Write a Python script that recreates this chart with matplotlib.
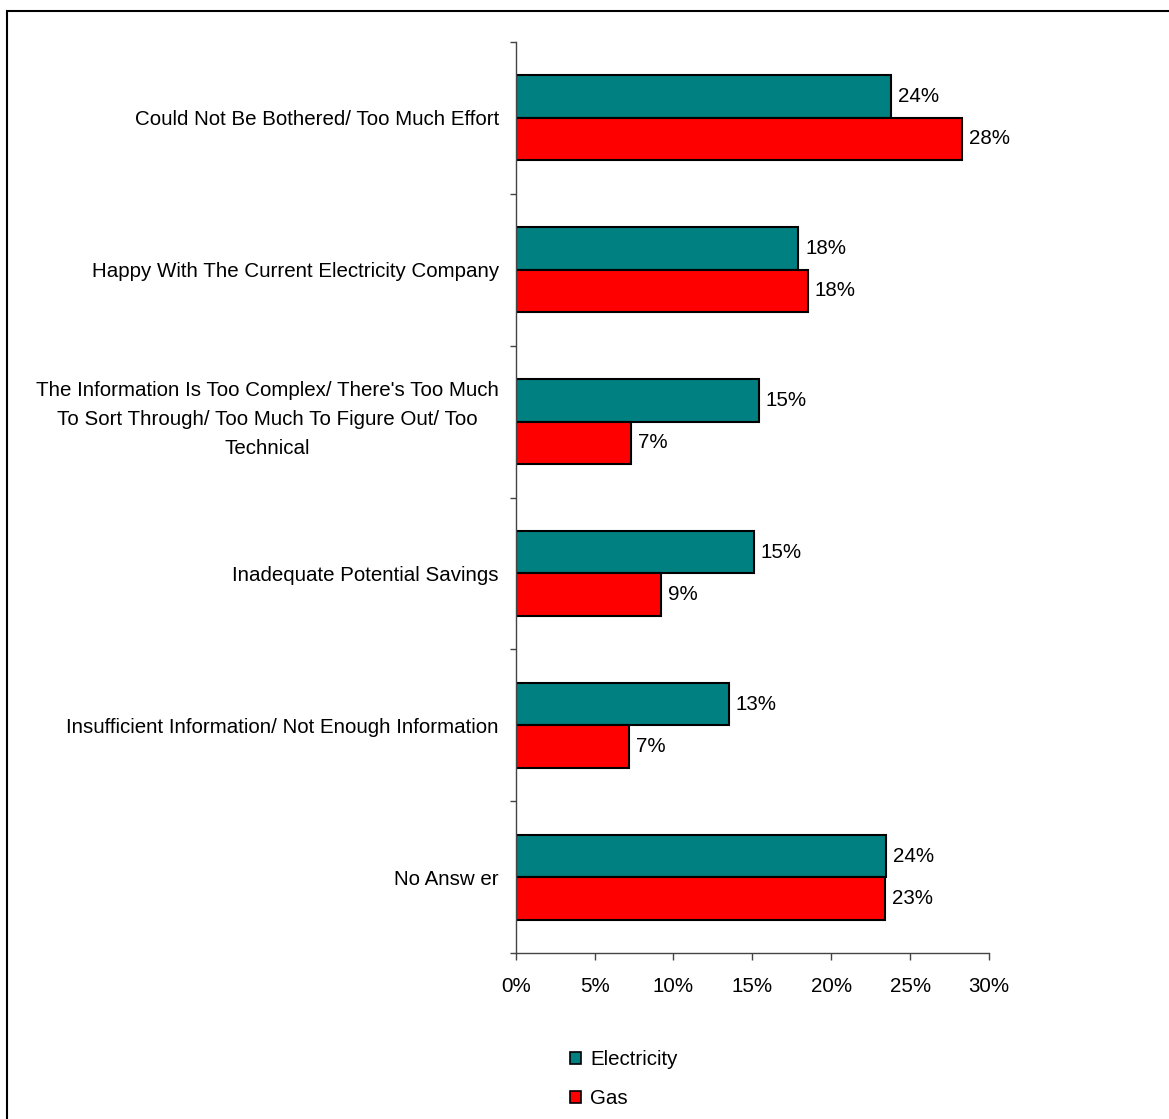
import numpy as np
import matplotlib.pyplot as plt
from matplotlib.patches import Patch, Rectangle
from matplotlib.transforms import ScaledTranslation

plt.rcParams["font.family"] = ["Liberation Sans", "DejaVu Sans"]

categories = [
    "Could Not Be Bothered/ Too Much Effort",
    "Happy With The Current Electricity Company",
    "The Information Is Too Complex/ There's Too Much\nTo Sort Through/ Too Much To Figure Out/ Too\nTechnical",
    "Inadequate Potential Savings",
    "Insufficient Information/ Not Enough Information",
    "No Answ er",
]
electricity = [23.8, 17.9, 15.4, 15.1, 13.5, 23.5]
gas = [28.3, 18.5, 7.3, 9.2, 7.2, 23.4]
elec_labels = ["24%", "18%", "15%", "15%", "13%", "24%"]
gas_labels = ["28%", "18%", "7%", "9%", "7%", "23%"]
xticks = [0, 5, 10, 15, 20, 25, 30]

ELEC_COLOR = "#008080"
GAS_COLOR = "#FF0000"
FS = 14.8
BAR_H = 0.28

fig = plt.figure(figsize=(11.69, 11.19), dpi=100)
ax = fig.add_axes([0.4411, 0.1481, 0.4049, 0.8146])

n = len(categories)
y = np.arange(n)
ax.barh(y - BAR_H / 2, electricity, height=BAR_H, color=ELEC_COLOR,
        edgecolor="black", linewidth=1.5)
ax.barh(y + BAR_H / 2, gas, height=BAR_H, color=GAS_COLOR,
        edgecolor="black", linewidth=1.5)

for i in range(n):
    ax.annotate(elec_labels[i], (electricity[i], y[i] - BAR_H / 2),
                xytext=(5, 0), textcoords="offset points",
                va="center", ha="left", fontsize=FS)
    ax.annotate(gas_labels[i], (gas[i], y[i] + BAR_H / 2),
                xytext=(5, 0), textcoords="offset points",
                va="center", ha="left", fontsize=FS)

ax.set_xlim(0, 30)
ax.set_ylim(n - 0.5, -0.5)
ax.set_xticks(xticks)
ax.set_xticklabels([f"{t}%" for t in xticks], fontsize=FS)

# category boundaries get the tick marks, labels sit in the middle
ax.set_yticks(np.arange(n + 1) - 0.5)
ax.set_yticklabels([])
ax.set_yticks(y, minor=True)
ax.set_yticklabels(categories, minor=True, fontsize=FS,
                   multialignment="center", linespacing=1.65)
ax.tick_params(axis="y", which="minor", length=0, pad=12)
ax.tick_params(axis="y", which="major", length=4, width=1, color="#444444")
ax.tick_params(axis="x", length=5, width=1, pad=12, color="#444444")

# the three-line label sits a little high in the original
lbl = ax.get_yticklabels(minor=True)[2]
lbl.set_transform(lbl.get_transform() + ScaledTranslation(0, 0.09, fig.dpi_scale_trans))

for s in ["top", "right"]:
    ax.spines[s].set_visible(False)
for s in ["left", "bottom"]:
    ax.spines[s].set_color("#444444")
    ax.spines[s].set_linewidth(1)

handles = [
    Patch(facecolor=ELEC_COLOR, edgecolor="black", linewidth=1.2, label="Electricity"),
    Patch(facecolor=GAS_COLOR, edgecolor="black", linewidth=1.2, label="Gas"),
]
fig.legend(handles=handles, loc="upper left", bbox_to_anchor=(0.4805, 0.0689),
           frameon=False, fontsize=FS, handlelength=0.55, handleheight=0.55,
           handletextpad=0.45, labelspacing=0.98, borderaxespad=0)

fig.patches.append(Rectangle((7 / 1169, -0.05), 1.1, 1 - 11 / 1119 + 0.05,
                             transform=fig.transFigure, fill=False,
                             edgecolor="black", linewidth=1.5))

fig.savefig("out.png", dpi=100)
